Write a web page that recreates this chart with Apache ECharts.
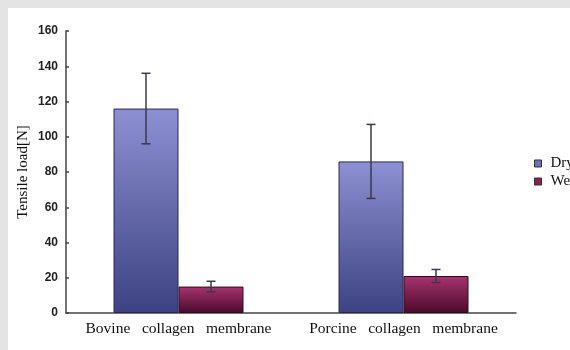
<!DOCTYPE html>
<html>
<head>
<meta charset="utf-8">
<script src="https://cdn.jsdelivr.net/npm/echarts@6/dist/echarts.min.js"></script>
<style>
html,body{margin:0;padding:0;background:#e4e4e4;width:570px;height:350px;overflow:hidden;}
#chart{position:absolute;left:8px;top:8px;width:562px;height:342px;background:#fff;}
</style>
</head>
<body>
<div id="chart"></div>
<script>
var categories = ['Bovine   collagen   membrane', 'Porcine   collagen   membrane'];
var seriesNames = ['Dry', 'Wet'];
var dryValues = [116, 86];
var dryErrors = [20, 21];
var wetValues = [15, 21];
var wetErrors = [3, 3.7];
var yTicks = [0, 20, 40, 60, 80, 100, 120, 140, 160];

var BAR_W = 65;
var chart = echarts.init(document.getElementById('chart'), null, {renderer: 'canvas'});

function grad(top, bottom) {
  return new echarts.graphic.LinearGradient(0, 0, 0, 1, [
    {offset: 0, color: top}, {offset: 1, color: bottom}
  ]);
}

function errorSeries(values, errors, sideSign) {
  var data = values.map(function (v, i) { return [i, v - errors[i], v + errors[i]]; });
  return {
    type: 'custom',
    silent: true,
    z: 5,
    data: data,
    renderItem: function (params, api) {
      var lo = api.coord([api.value(0), api.value(1)]);
      var hi = api.coord([api.value(0), api.value(2)]);
      var x = lo[0] + sideSign * BAR_W / 2;
      var cap = 4.5;
      var st = {stroke: '#3a3a4a', lineWidth: 1.5};
      return {
        type: 'group',
        children: [
          {type: 'line', shape: {x1: x, y1: hi[1], x2: x, y2: lo[1]}, style: st},
          {type: 'line', shape: {x1: x - cap, y1: hi[1], x2: x + cap, y2: hi[1]}, style: st},
          {type: 'line', shape: {x1: x - cap, y1: lo[1], x2: x + cap, y2: lo[1]}, style: st}
        ]
      };
    }
  };
}

var option = {
  animation: false,
  grid: {left: 58, right: 54, top: 23, bottom: 37, outerBoundsMode: 'none', containLabel: false},
  legend: {
    orient: 'vertical',
    left: 521,
    top: 143,
    itemWidth: 7,
    itemHeight: 7,
    itemGap: 3,
    icon: 'rect',
    textStyle: {fontFamily: 'Liberation Serif', fontSize: 15, color: '#111', padding: [0,0,0,4]},
    data: [
      {name: seriesNames[0], itemStyle: {color: '#6d70bd', borderColor: '#333', borderWidth: 1}},
      {name: seriesNames[1], itemStyle: {color: '#8a1f55', borderColor: '#333', borderWidth: 1}}
    ]
  },
  xAxis: {
    type: 'category',
    data: categories,
    axisLine: {lineStyle: {color: '#444', width: 1.5}},
    axisTick: {inside: true, length: 3, lineStyle: {color: '#444', width: 1.5}},
    axisLabel: {interval: 0, hideOverlap: false, fontFamily: 'Liberation Serif', fontSize: 15.5, color: '#111', margin: 8}
  },
  yAxis: {
    type: 'value',
    min: yTicks[0],
    max: yTicks[yTicks.length - 1],
    interval: yTicks[1] - yTicks[0],
    name: 'Tensile load[N]',
    nameLocation: 'middle',
    nameGap: 35,
    nameMoveOverlap: false,
    nameTextStyle: {fontFamily: 'Liberation Serif', fontSize: 15, color: '#111'},
    splitLine: {show: false},
    axisLine: {show: true, lineStyle: {color: '#444', width: 1.5}},
    axisTick: {show: true, inside: true, length: 3, lineStyle: {color: '#444', width: 1.5}},
    axisLabel: {fontFamily: 'Liberation Sans', fontWeight: 'bold', fontSize: 12, color: '#222', margin: 8}
  },
  series: [
    {
      name: seriesNames[0], type: 'bar', data: dryValues, barWidth: BAR_W, barGap: '0%',
      itemStyle: {color: grad('#8d90d2', '#3c4282'), borderColor: '#2a2a50', borderWidth: 1}
    },
    {
      name: seriesNames[1], type: 'bar', data: wetValues, barWidth: BAR_W, barGap: '0%',
      itemStyle: {color: grad('#a8336f', '#4a0a2a'), borderColor: '#2a1020', borderWidth: 1}
    },
    errorSeries(dryValues, dryErrors, -1),
    errorSeries(wetValues, wetErrors, 1)
  ]
};
chart.setOption(option);
</script>
</body>
</html>
